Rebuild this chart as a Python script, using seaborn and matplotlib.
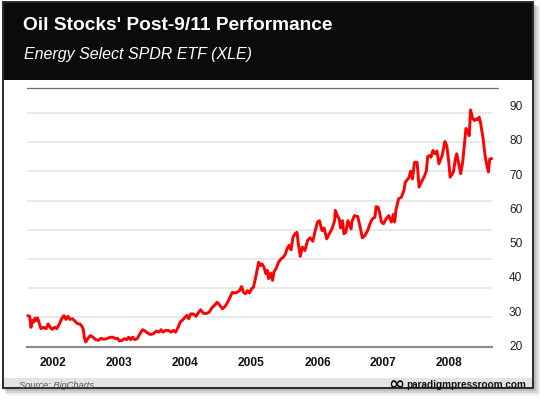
import numpy as np
import pandas as pd
import matplotlib
matplotlib.use("Agg")
import matplotlib.pyplot as plt
import seaborn as sns
from matplotlib.patches import Rectangle
from matplotlib.lines import Line2D

# ---------------- data ----------------
title = "Oil Stocks' Post-9/11 Performance"
subtitle = "Energy Select SPDR ETF (XLE)"
source_text = "Source: BigCharts"
brand_text = "paradigmpressroom.com"

year_ticks = [2002, 2003, 2004, 2005, 2006, 2007, 2008]
price_ticks = [20, 30, 40, 50, 60, 70, 80, 90]

dates = [
    2001.61, 2001.64, 2001.66, 2001.68, 2001.70, 2001.72, 2001.74, 2001.76, 2001.78, 2001.81,
    2001.85, 2001.89, 2001.92, 2001.95, 2001.98, 2002.02, 2002.05, 2002.09, 2002.13, 2002.16,
    2002.19, 2002.22, 2002.25, 2002.29, 2002.33, 2002.37, 2002.40, 2002.43, 2002.45, 2002.47,
    2002.49, 2002.52, 2002.56, 2002.60, 2002.64, 2002.68, 2002.72, 2002.76, 2002.81, 2002.86,
    2002.90, 2002.94, 2002.97, 2003.00, 2003.04, 2003.08, 2003.11, 2003.14, 2003.17, 2003.20,
    2003.23, 2003.27, 2003.31, 2003.35, 2003.39, 2003.43, 2003.47, 2003.51, 2003.56, 2003.60,
    2003.63, 2003.66, 2003.70, 2003.74, 2003.78, 2003.82, 2003.85, 2003.89, 2003.92, 2003.96,
    2003.99, 2004.02, 2004.05, 2004.08, 2004.12, 2004.16, 2004.20, 2004.23, 2004.27, 2004.31,
    2004.36, 2004.40, 2004.44, 2004.48, 2004.51, 2004.56, 2004.60, 2004.64, 2004.68, 2004.71,
    2004.74, 2004.78, 2004.82, 2004.85, 2004.88, 2004.91, 2004.94, 2004.97, 2005.00, 2005.03,
    2005.06, 2005.09, 2005.11, 2005.13, 2005.16, 2005.19, 2005.22, 2005.24, 2005.26, 2005.29,
    2005.32, 2005.34, 2005.38, 2005.41, 2005.45, 2005.48, 2005.51, 2005.54, 2005.57, 2005.60,
    2005.63, 2005.66, 2005.69, 2005.71, 2005.74, 2005.77, 2005.81, 2005.85, 2005.89, 2005.93,
    2005.96, 2006.00, 2006.03, 2006.07, 2006.10, 2006.14, 2006.18, 2006.22, 2006.26, 2006.27,
    2006.30, 2006.33, 2006.35, 2006.38, 2006.40, 2006.43, 2006.46, 2006.51, 2006.52, 2006.56,
    2006.61, 2006.65, 2006.68, 2006.72, 2006.76, 2006.80, 2006.83, 2006.87, 2006.89, 2006.92,
    2006.94, 2006.97, 2007.00, 2007.04, 2007.08, 2007.12, 2007.15, 2007.17, 2007.19, 2007.23,
    2007.27, 2007.31, 2007.33, 2007.36, 2007.39, 2007.41, 2007.44, 2007.47, 2007.51, 2007.54,
    2007.57, 2007.62, 2007.65, 2007.67, 2007.70, 2007.72, 2007.75, 2007.78, 2007.81, 2007.84,
    2007.89, 2007.93, 2007.96, 2007.99, 2008.01, 2008.04, 2008.06, 2008.09, 2008.11, 2008.14,
    2008.17, 2008.20, 2008.23, 2008.25, 2008.28, 2008.30, 2008.32, 2008.35, 2008.38, 2008.41,
    2008.43, 2008.45, 2008.47, 2008.51, 2008.54, 2008.57, 2008.59, 2008.61, 2008.64,
]

price = [
    28.7, 28.5, 25.3, 27.3, 26.8, 28.0, 27.3, 28.0, 26.8, 24.9,
    25.3, 24.9, 26.3, 25.3, 24.7, 25.3, 24.9, 26.3, 28.0, 28.7,
    27.6, 28.5, 27.6, 27.8, 27.0, 26.3, 26.3, 25.6, 24.9, 22.1,
    21.0, 22.0, 22.9, 22.4, 21.7, 21.5, 22.1, 21.8, 22.0, 22.4,
    22.4, 22.0, 22.1, 21.3, 21.5, 22.0, 21.7, 22.4, 21.7, 22.4,
    21.7, 22.0, 23.4, 24.6, 24.2, 23.6, 23.2, 23.4, 24.2, 23.9,
    24.6, 23.9, 24.4, 24.4, 23.9, 24.4, 23.9, 25.3, 26.8, 27.5,
    28.1, 28.8, 27.8, 29.2, 29.2, 28.5, 29.7, 30.4, 29.4, 29.3,
    29.7, 31.0, 31.7, 32.6, 32.0, 30.7, 31.4, 32.6, 34.3, 35.5,
    35.3, 35.5, 36.0, 37.2, 35.5, 35.1, 36.0, 35.3, 36.5, 37.0,
    39.5, 42.4, 44.3, 43.3, 43.8, 42.8, 40.9, 41.9, 39.5, 41.1,
    39.0, 41.4, 42.7, 44.3, 45.3, 45.7, 46.5, 48.2, 49.2, 47.9,
    51.6, 52.6, 53.0, 49.7, 46.0, 48.7, 47.7, 50.6, 51.4, 50.4,
    53.0, 56.0, 56.4, 53.5, 54.3, 51.1, 52.6, 54.0, 56.4, 59.4,
    57.9, 56.9, 54.3, 56.4, 52.6, 53.0, 56.4, 54.0, 56.0, 57.9,
    57.6, 54.3, 51.4, 52.1, 53.5, 55.7, 56.9, 57.4, 60.5, 60.3,
    58.9, 56.0, 55.5, 56.9, 57.9, 56.0, 58.2, 56.0, 59.6, 62.8,
    63.2, 65.2, 67.6, 68.3, 69.1, 70.8, 68.6, 73.4, 73.4, 66.2,
    67.5, 69.4, 70.9, 75.1, 75.4, 74.9, 76.9, 75.9, 76.7, 73.0,
    75.4, 79.5, 78.2, 73.4, 69.1, 69.9, 70.7, 74.4, 75.9, 73.0,
    70.1, 73.4, 79.3, 83.3, 82.2, 81.2, 88.7, 86.3, 85.6, 86.1,
    85.9, 86.6, 85.1, 80.3, 75.3, 72.3, 70.6, 74.4, 74.5,
]

df = pd.DataFrame({"date": dates, "price": price})

# ---------------- style ----------------
sns.set_style("white")
plt.rcParams["font.family"] = ["Liberation Sans", "DejaVu Sans"]

W, H = 540, 400
fig = plt.figure(figsize=(W / 100, H / 100), dpi=100)
fig.patch.set_facecolor("white")


def fx(x):
    return x / W


def fy(y):
    return 1 - y / H


def rect(x0, y0, x1, y1, **kw):
    r = Rectangle((fx(x0), fy(y1)), fx(x1) - fx(x0), fy(y0) - fy(y1),
                  transform=fig.transFigure, **kw)
    fig.add_artist(r)
    return r


# card shadow (soft)
for i, a in enumerate([0.10, 0.08, 0.06, 0.04]):
    rect(4 + i, 4 + i, 534 + 2 + i * 1.5, 388 + 3 + i * 1.5,
         facecolor="black", edgecolor="none", alpha=a, zorder=0)

# card body
rect(3, 2, 533, 388, facecolor="white", edgecolor="none", zorder=1)
# header
rect(3, 2, 533, 80, facecolor="#0b0b0b", edgecolor="none", zorder=2)
# footer band
rect(3, 377.5, 533, 388, facecolor="#e3e3e3", edgecolor="none", zorder=2)
# card border
rect(3, 2, 533, 388, facecolor="none", edgecolor="#2b2b2b", linewidth=1.4, zorder=3)

# titles
fig.text(fx(23), fy(26), title, ha="left", va="center", color="white",
         fontsize=13.8, fontweight="bold", zorder=5)
fig.text(fx(24), fy(55), subtitle, ha="left", va="center", color="white",
         fontsize=11.5, fontstyle="italic", zorder=5)

# footer texts
fig.text(fx(19.5), fy(385), source_text, ha="left", va="center", color="#555555",
         fontsize=6.7, fontstyle="italic", zorder=5)
fig.text(fx(526), fy(385), brand_text, ha="right", va="center", color="#111111",
         fontsize=7.2, fontweight="bold", zorder=5)
fig.text(fx(396.5), fy(384.2), "\u221e", ha="center", va="center", color="#111111",
         fontsize=14, fontweight="bold", family=["DejaVu Sans"], zorder=5)

# ---------------- axes ----------------
ax_left, ax_right, ax_top, ax_bottom = 26.7, 491.7, 88.0, 346.5
ax = fig.add_axes([fx(ax_left), fy(ax_bottom), fx(ax_right) - fx(ax_left),
                   fy(ax_top) - fy(ax_bottom)])
ax.set_zorder(4)
ax.patch.set_alpha(0)

y_lo, y_hi = 19.7, 95.1
x_lo, x_hi = 2001.595, 2008.64
ax.set_xlim(x_lo, x_hi)
ax.set_ylim(y_lo, y_hi)

# decorative gridlines (evenly spaced bands as in the original)
grid_step = 8.51
grid_levels = y_lo + grid_step * np.arange(1, 9)
for g in grid_levels:
    ax.axhline(g, color="#e9e9e9", linewidth=1.4, zorder=1)

sns.lineplot(data=df, x="date", y="price", ax=ax, color="#ff0000",
             linewidth=2.1, sort=False, estimator=None, zorder=3)
for ln in ax.lines[-1:]:
    ln.set_clip_on(False)
    ln.set_solid_joinstyle("round")

for s in ["left", "right", "top"]:
    ax.spines[s].set_visible(False)
ax.spines["bottom"].set_color("#8c8c8c")
ax.spines["bottom"].set_linewidth(1.6)

# top rule, slightly longer than the plot
fig.add_artist(Line2D([fx(27), fx(498)], [fy(ax_top), fy(ax_top)],
                      transform=fig.transFigure, color="#6e6e6e",
                      linewidth=0.9, zorder=5))

ax.set_xticks(year_ticks)
ax.set_xticklabels([str(y) for y in year_ticks], fontweight="bold",
                   fontsize=8.6, color="#111111")
ax.set_yticks(price_ticks)
ax.set_yticklabels([str(p) for p in price_ticks], fontsize=8.6, color="#222222")
ax.yaxis.tick_right()
ax.tick_params(axis="x", length=0, pad=7.5)
ax.tick_params(axis="y", length=0, pad=12.5)
ax.set_xlabel("")
ax.set_ylabel("")
ax.grid(False)

fig.savefig("out.png", dpi=100, facecolor=fig.get_facecolor())
